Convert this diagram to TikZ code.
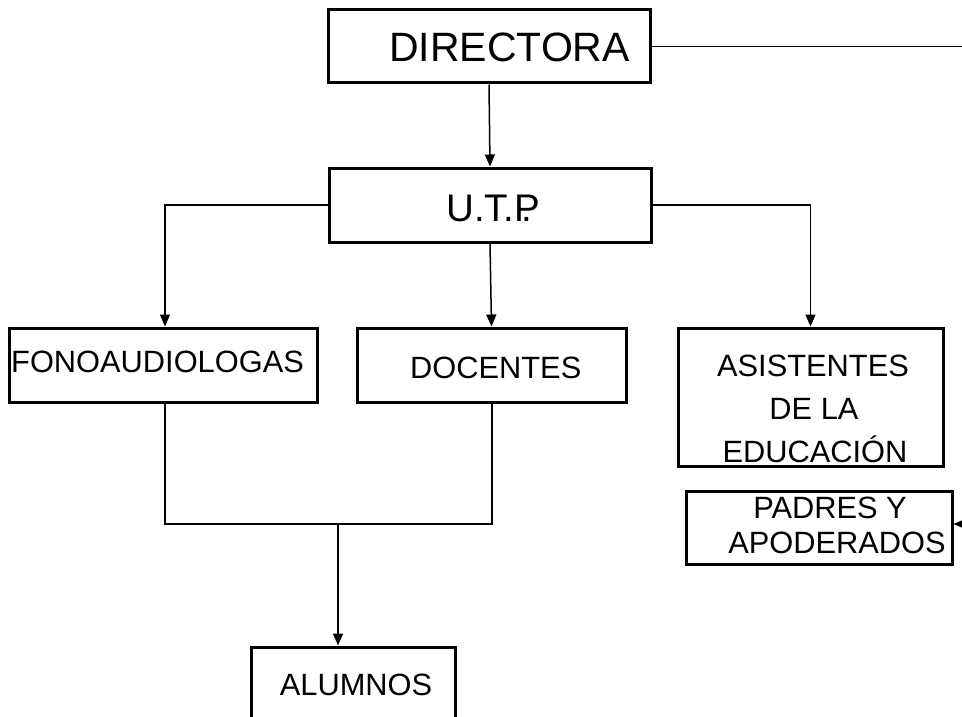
\documentclass[tikz,border=0pt]{standalone}
\usepackage{fontspec}
\setmainfont{Liberation Sans}
\usetikzlibrary{arrows.meta,calc}
\tikzset{
  orgbox/.style={draw, line width=3pt, rectangle, inner sep=0pt},
  lbl/.style={inner sep=0pt, font=\fontsize{30.8}{34}\selectfont},
  conn/.style={line width=1.5pt},
  arr/.style={line width=1.5pt, -{Triangle[length=12pt,width=10pt]}}
}
\begin{document}
\begin{tikzpicture}[x=1pt,y=-1pt]
\useasboundingbox (0,0) rectangle (962,717);
\clip (0,0) rectangle (962,717);
% boxes
\node[orgbox, minimum width=322pt, minimum height=73pt] (dir) at (489,46.5) {};
\node[orgbox, minimum width=322pt, minimum height=74pt] (utp) at (490,205) {};
\node[orgbox, minimum width=308pt, minimum height=74pt] (fono) at (163,365) {};
\node[orgbox, minimum width=269pt, minimum height=74pt] (doc) at (491.5,365) {};
\node[orgbox, minimum width=265pt, minimum height=138pt] (asis) at (810.5,397) {};
\node[orgbox, minimum width=266pt, minimum height=73pt] (pad) at (819,527.5) {};
\node[orgbox, minimum width=204pt, minimum height=90pt] (alum) at (353,692) {};
% texts
\node[lbl, anchor=base west, font=\fontsize{41}{44}\selectfont] (tdir) at (389,62) {DIRECTORA};
\node[lbl, anchor=base west, font=\fontsize{38.5}{42}\selectfont] (tutp) at (446,221) {U.T.P\kern-0.48em.};
\node[lbl, anchor=base west] (tfono) at (11,372) {FONOAUDIOLOGAS};
\node[lbl, anchor=base west] (tdoc) at (410,378) {DOCENTES};
\node[lbl, anchor=base] (tasis1) at (813,376) {ASISTENTES};
\node[lbl, anchor=base] (tasis2) at (814,419) {DE LA};
\node[lbl, anchor=base] (tasis3) at (815,462) {EDUCACIÓN};
\node[lbl, anchor=base] (tpad1) at (830,518) {PADRES Y};
\node[lbl, anchor=base] (tpad2) at (837,553) {APODERADOS};
\node[lbl, anchor=base] (talum) at (356,695) {ALUMNOS};
% free ends
\coordinate (dirR) at (962,46.5);
\coordinate (padR) at (962,524);
\coordinate (fonoB) at (165,402);
\coordinate (docB) at (492,402);
\coordinate (jl) at (165,524);
\coordinate (jm) at (338,524);
% connectors
\draw[conn] (dir.east) -- (dirR);
\draw[arr] (dir.south) -- (utp.north);
\draw[arr] (utp.west) -| (fonoB |- fono.north);
\draw[arr] (utp.south) -- (doc.north);
\draw[arr] (utp.east) -| (asis.north);
\draw[conn] (fonoB) -- (jl) -| (docB);
\draw[arr] (jm) -- (jm |- alum.north);
\draw[arr] (padR) -- (padR -| pad.east);
\end{tikzpicture}
\end{document}
